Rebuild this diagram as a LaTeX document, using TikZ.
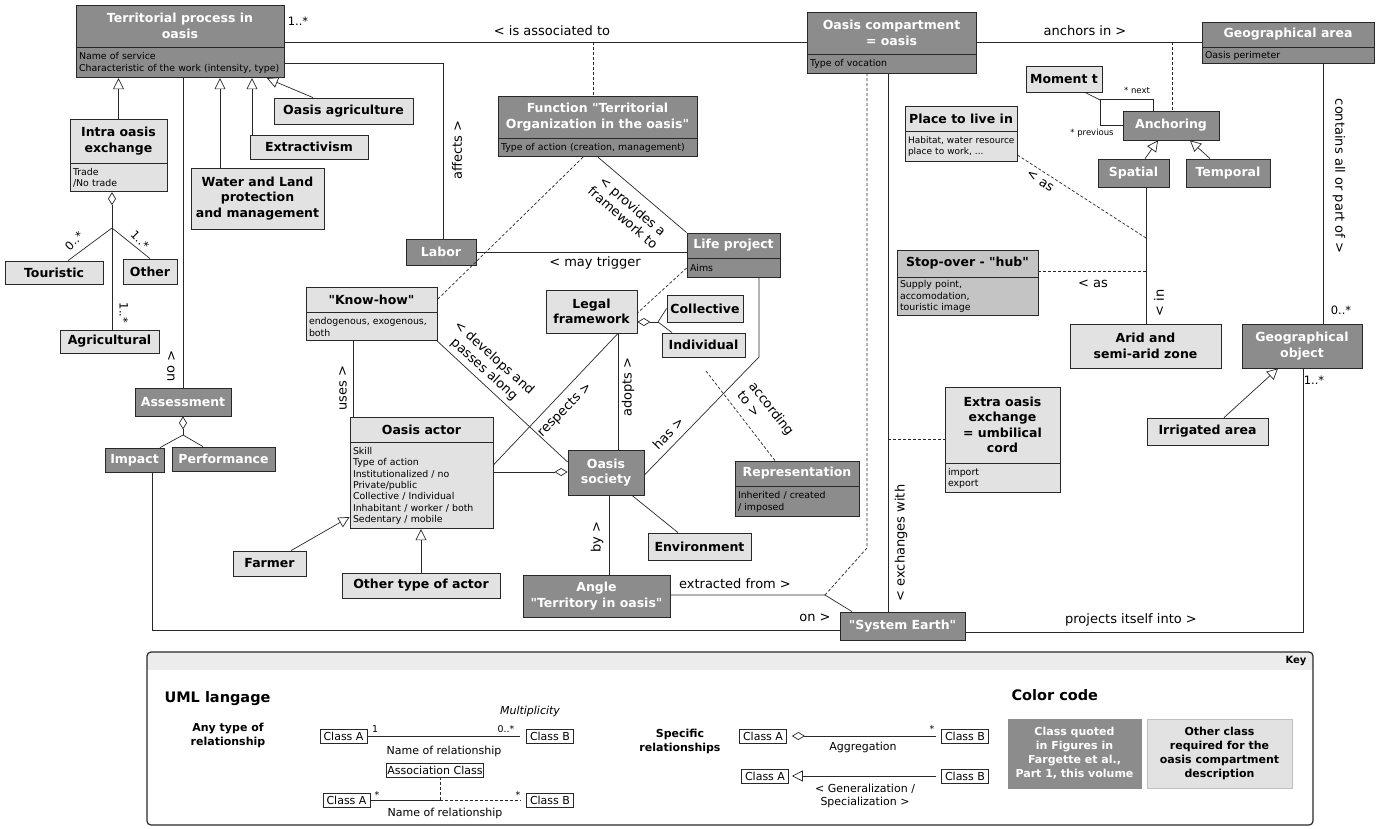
\documentclass[tikz,border=0pt]{standalone}
\usepackage{fontspec}
\setmainfont{DejaVu Sans}[Ligatures=TeXOff]
\usetikzlibrary{positioning}
\usetikzlibrary{arrows.meta}
\definecolor{linecol}{RGB}{40,40,40}
\definecolor{darkfill}{RGB}{140,140,140}
\definecolor{lightfill}{RGB}{226,226,226}
\definecolor{midfill}{RGB}{196,196,196}
\definecolor{keyband}{RGB}{236,236,236}
\newcommand{\titlefont}{\fontsize{12.5}{15.5}\selectfont\bfseries}
\newcommand{\attrfont}{\fontsize{9.4}{11.4}\selectfont}
\newcommand{\lblfont}{\fontsize{13}{15}\selectfont}
\newcommand{\multfont}{\fontsize{11.5}{13}\selectfont}
\newcommand{\keyfont}{\fontsize{11}{13}\selectfont}
\tikzset{dark node/.style={shape=rectangle, draw=linecol, line width=0.8pt,
    fill=darkfill, text=white, font=\titlefont, align=center, inner sep=1pt},
  light node/.style={dark node, fill=lightfill, text=black},
  mid node/.style={dark node, fill=midfill, text=black},
  attr node/.style={shape=rectangle, draw=linecol, line width=0.8pt,
    font=\attrfont, align=left, inner xsep=3pt, inner ysep=1pt, text=black},
  wh/.style 2 args={minimum width=#1pt, minimum height=#2pt},
  lbl/.style={font=\lblfont, inner sep=1pt, text=black},
  mult/.style={font=\multfont, inner sep=1pt, text=black},
  link/.style={draw=linecol, line width=0.7pt},
  dash link/.style={link, dash pattern=on 3pt off 2pt},
  gen/.style={arrows={-Triangle[open, length=11pt, width=11pt]}},
  agg/.style={arrows={Diamond[open, length=13pt, width=8pt]-}},
  agg end/.style={arrows={-Diamond[open, length=13pt, width=8pt]}},
  key class/.style={draw=linecol, line width=0.7pt, fill=white, font=\keyfont,
    inner sep=1pt, minimum width=47pt, minimum height=14pt}}

\begin{document}
\begin{tikzpicture}[x=1pt, y=-1pt]
    \fill[white] (0,0) rectangle (1382,828);
    \useasboundingbox (0,0) rectangle (1382,828);

    % territorial process and its kinds
    \node[dark node, wh={208}{42}] (1) at (180,26) {Territorial process in\\oasis};
    \node[attr node, fill=darkfill, text width=202pt, minimum height=30pt] (1a) [below=0pt of 1] {Name of service\\Characteristic of the work (intensity, type)};
    \node[light node, wh={97}{44}] (2) at (118.5,141) {Intra oasis\\exchange};
    \node[attr node, fill=lightfill, text width=91pt, minimum height=28pt] (2a) [below=0pt of 2] {Trade\\/No trade};
    \node[light node, wh={139}{26}] (3) at (343.5,111) {Oasis agriculture};
    \node[light node, wh={118}{24}] (4) at (309,147) {Extractivism};
    \node[light node, wh={133}{61}] (5) at (257.5,198.5) {Water and Land\\protection\\and management};
    \node[light node, wh={98}{23}] (6) at (54,272.5) {Touristic};
    \node[light node, wh={54}{25}] (7) at (150,271.5) {Other};
    \node[light node, wh={99}{23}] (8) at (109.5,341.5) {Agricultural};
    \node[dark node, wh={96}{28}] (9) at (183,402) {Assessment};
    \node[dark node, wh={59}{24}] (10) at (134.5,460) {Impact};
    \node[dark node, wh={103}{24}] (11) at (223.5,459) {Performance};
    \node[dark node, wh={70}{26}] (12) at (441,252) {Labor};

    % compartment, function, geography
    \node[dark node, wh={199}{42}] (13) at (597.5,117) {Function "Territorial\\Organization in the oasis"};
    \node[attr node, fill=darkfill, text width=193pt, minimum height=18pt] (13a) [below=0pt of 13] {Type of action (creation, management)};
    \node[dark node, wh={169}{42}] (14) at (891.5,33) {Oasis compartment\\= oasis};
    \node[attr node, fill=darkfill, text width=163pt, minimum height=19pt] (14a) [below=0pt of 14] {Type of vocation};
    \node[dark node, wh={172}{25}] (15) at (1288,34.5) {Geographical area};
    \node[attr node, fill=darkfill, text width=166pt, minimum height=16pt] (15a) [below=0pt of 15] {Oasis perimeter};
    \node[light node, wh={76}{26}] (16) at (1064,79) {Moment t};
    \node[dark node, wh={96}{29}] (17) at (1171,125.5) {Anchoring};
    \node[dark node, wh={71}{28}] (18) at (1133.5,173) {Spatial};
    \node[dark node, wh={84}{28}] (19) at (1228,173) {Temporal};
    \node[light node, wh={112}{25}] (20) at (961,118.5) {Place to live in};
    \node[attr node, fill=lightfill, text width=106pt, minimum height=30pt, font=\fontsize{9}{11}\selectfont] (20a) [below=0pt of 20] {\mbox{Habitat, water resource}\\place to work, ...};
    \node[mid node, wh={141}{27}] (21) at (967.5,263.5) {Stop-over - "hub"};
    \node[attr node, fill=midfill, text width=135pt, minimum height=38pt] (21a) [below=0pt of 21] {Supply point,\\accomodation,\\touristic image};
    \node[light node, wh={151}{44}] (22) at (1145.5,346) {Arid and\\semi-arid zone};
    \node[dark node, wh={120}{44}] (23) at (1302,346) {Geographical\\object};
    \node[light node, wh={121}{27}] (24) at (1207.5,431.5) {Irrigated area};

    % actors and society
    \node[dark node, wh={93}{25}] (25) at (733.5,245.5) {Life project};
    \node[attr node, fill=darkfill, text width=87pt, minimum height=19pt] (25a) [below=0pt of 25] {Aims};
    \node[light node, wh={131}{25}] (26) at (371.5,299.5) {"Know-how"};
    \node[attr node, fill=lightfill, text width=125pt, minimum height=28pt] (26a) [below=0pt of 26] {endogenous, exogenous,\\both};
    \node[light node, wh={91}{43}] (27) at (591.5,311.5) {Legal\\framework};
    \node[light node, wh={76}{27}] (28) at (705,308.5) {Collective};
    \node[light node, wh={83}{24}] (29) at (703.5,345) {Individual};
    \node[light node, wh={143}{25}] (30) at (421.5,429.5) {Oasis actor};
    \node[attr node, fill=lightfill, text width=137pt, minimum height=86pt] (30a) [below=0pt of 30] {Skill\\Type of action\\Institutionalized / no\\Private/public\\Collective / Individual\\Inhabitant / worker / both\\Sedentary / mobile};
    \node[dark node, wh={76}{45}] (31) at (606,472.5) {Oasis\\society};
    \node[light node, wh={103}{27}] (32) at (699.5,546.5) {Environment};
    \node[light node, wh={73}{25}] (33) at (269.5,563.5) {Farmer};
    \node[light node, wh={158}{25}] (34) at (421,585.5) {Other type of actor};
    \node[dark node, wh={147}{42}] (35) at (596.5,596) {Angle\\"Territory in oasis"};
    \node[dark node, wh={124}{25}] (36) at (797,473.5) {Representation};
    \node[attr node, fill=darkfill, text width=118pt, minimum height=30pt] (36a) [below=0pt of 36] {Inherited / created\\/ imposed};
    \node[light node, wh={115}{76}] (37) at (1002.5,425) {Extra oasis\\exchange\\= umbilical\\cord};
    \node[attr node, fill=lightfill, text width=109pt, minimum height=29pt] (37a) [below=0pt of 37] {import\\export};
    \node[dark node, wh={125}{28}] (38) at (902.5,626) {"System Earth"};

    % generalizations
    \draw[link, gen] (2.north) -- (2.north |- 1a.south);
    \draw[link, gen] (220,0 |- 5.north) -- (220,0 |- 1a.south);
    \draw[link, gen] (252,0 |- 4.north) -- (252,0 |- 1a.south);
    \draw[link, gen] (313,0 |- 3.north) -- (267,0 |- 1a.south);
    \draw[link, gen] (291,0 |- 33.north) -- (30a.west |- 0,517);
    \draw[link, gen] (34.north) -- (34.north |- 30a.south);
    \draw[link, gen] (1145,0 |- 18.north) -- (1158,0 |- 17.south);
    \draw[link, gen] (1210,0 |- 19.north) -- (1190,0 |- 17.south);
    \draw[link, gen] (1224,0 |- 24.north) -- (1278,0 |- 23.south);

    % aggregations
    \coordinate (j1) at (112,228);
    \draw[link, agg] (112,0 |- 2a.south) -- (j1);
    \draw[link] (j1) -- (68,0 |- 6.north);
    \draw[link] (j1) -- (150,0 |- 7.north);
    \draw[link] (j1) -- (112,0 |- 8.north);
    \node[mult, rotate=45] (m1) at (74,241) {0..*};
    \node[mult, rotate=-45] (m2) at (140,240) {1..*};
    \node[mult, rotate=-90] (m3) at (124,313) {1..*};

    \coordinate (j2) at (183,435);
    \draw[link, agg] (9.south) -- (j2);
    \draw[link] (j2) -- (160,0 |- 10.north);
    \draw[link] (j2) -- (203,0 |- 11.north);

    \coordinate (j3) at (658,322);
    \draw[link, agg] (27.east |- 0,322) -- (j3);
    \draw[link] (j3) -- (28.west);
    \draw[link] (j3) -- (672,0 |- 29.north);

    \draw[link, agg end] (30a.east |- 0,472) -- (31.west |- 0,472);

    % associations
    \draw[link] (1.east |- 0,42) -- (14.west |- 0,42);
    \node[lbl] (l1) at (552,31) {< is associated to};
    \node[mult] (m4) at (298,21) {1..*};
    \draw[dash link] (593,42) -- (593,0 |- 13.north);

    \draw[link] (1a.east |- 0,63) -- (443,63) -- (443,0 |- 12.north);
    \node[lbl, rotate=90] (l2) at (457,150) {affects >};

    \draw[link] (183,0 |- 1a.south) -- (9.north);
    \node[lbl, rotate=-90] (l3) at (171,366) {< on};

    \draw[link] (152,0 |- 10.south) -- (152,630) -- (38.west |- 0,630);
    \node[lbl] (l4) at (815,618) {on >};

    \draw[link] (353,0 |- 26a.south) -- (353,0 |- 30.north);
    \node[lbl, rotate=90] (l5) at (343,388) {uses >};

    \draw[link] (26a.south east) -- (31.west |- 0,462);
    \node[lbl, rotate=-42, align=center] (l6) at (489,364) {< develops and\\passes along};

    \draw[link] (30a.east |- 0,465) -- (618,0 |- 27.south);
    \node[lbl, rotate=45] (l7) at (565,410) {respects >};

    \draw[link] (618,0 |- 27.south) -- (618,0 |- 31.north);
    \node[lbl, rotate=90] (l8) at (628,387) {adopts >};

    \draw[link] (31.east |- 0,475) -- (759,357) -- (759,0 |- 25a.south);
    \node[lbl, rotate=46] (l9) at (668,433) {has >};

    \draw[link] (632,0 |- 31.south) -- (678,0 |- 32.north);

    \draw[link] (609,0 |- 31.south) -- (609,0 |- 35.north);
    \node[lbl, rotate=90] (l10) at (597,537) {by >};

    \coordinate (c1) at (825,595);
    \draw[link] (35.east |- c1) -- (c1) -- (852,0 |- 38.north);
    \node[lbl] (l11) at (735,584) {extracted from >};
    \draw[dash link] (c1) -- (867,548) -- (867,0 |- 14a.south);

    \draw[link] (888,0 |- 14a.south) -- (888,0 |- 38.north);
    \node[lbl, rotate=90] (l12) at (901,543) {< exchanges with};
    \draw[dash link] (888,439) -- (37.west |- 0,439);

    \draw[link] (598,0 |- 13a.south) -- (25.north west);
    \node[lbl, rotate=-41, align=center] (l13) at (628,212) {< provides a\\framework to};
    \draw[dash link] (583,0 |- 13a.south) -- (26.east);
    \draw[dash link] (25a.west |- 0,268) -- (27.east |- 0,313);

    \draw[link] (12.east) -- (12.east -| 25.west);
    \node[lbl] (l14) at (595,263) {< may trigger};

    \coordinate (c2) at (706,371);
    \draw[dash link] (c2) -- (775,0 |- 36.north);
    \node[lbl, rotate=-52, align=left] (l15) at (766,413) {according\\to >};

    \draw[link] (14.east |- 0,42) -- (15.west |- 0,42);
    \node[lbl] (l16) at (1085,31) {anchors in >};
    \draw[dash link] (1172,42) -- (1172,0 |- 17.north);

    \draw[link] (1323,0 |- 15a.south) -- (1323,0 |- 23.north);
    \node[lbl, rotate=-90] (l17) at (1339,176) {contains all or part of >};
    \node[mult] (m5) at (1341,310) {0..*};

    % anchoring in time
    \draw[link] (1153,0 |- 17.north) -- (1153,99) -- (1100,99) -- (1100,125) -- (17.west |- 0,125);
    \draw[link] (1085,0 |- 16.south) -- (1100,100);
    \node[font=\fontsize{8.5}{10}\selectfont, inner sep=1pt] (m6) at (1137,90) {* next};
    \node[font=\fontsize{8.5}{10}\selectfont, inner sep=1pt] (m7) at (1092,133) {* previous};

    \draw[link] (1146,0 |- 18.south) -- (1146,0 |- 22.north);
    \node[lbl, rotate=90] (l18) at (1159,303) {< in};

    \draw[dash link] (20a.east |- 0,155) -- (1146,238);
    \node[lbl, rotate=-33] (l19) at (1040,181) {< as};
    \draw[dash link] (21.east |- 0,271) -- (1146,271);
    \node[lbl] (l20) at (1093,284) {< as};

    \draw[link] (38.east |- 0,632) -- (1303,632) -- (1303,0 |- 23.south);
    \node[lbl] (l21) at (1131,620) {projects itself into >};
    \node[mult] (m8) at (1314,380) {1..*};

    % key
    \begin{scope}
      \clip[rounded corners=4pt] (147,652) rectangle (1313,825);
      \fill[keyband] (147,652) rectangle (1313,670);
    \end{scope}
    \draw[linecol, line width=1.2pt, rounded corners=4pt] (147,652) rectangle (1313,825);
    \node[font=\fontsize{10}{12}\selectfont\bfseries, anchor=east] (k0) at (1310,661) {Key};

    \node[font=\fontsize{14.5}{17}\selectfont\bfseries, anchor=west] (k1) at (161,699) {UML langage};
    \node[font=\fontsize{11}{14}\selectfont\bfseries, align=center] (k2) at (228,735) {Any type of\\relationship};
    \node[font=\fontsize{11}{13}\selectfont\itshape] (k3) at (530,711) {Multiplicity};

    \node[key class] (k4) at (343.5,736) {Class A};
    \node[key class] (k5) at (550,736) {Class B};
    \draw[link, shorten >=6pt] (k4) -- (k5);
    \node[font=\attrfont] (k6) at (375,729) {1};
    \node[font=\attrfont] (k7) at (506,729) {0..*};
    \node[font=\keyfont] (k8) at (444,751) {Name of relationship};

    \node[key class, minimum width=96pt] (k9) at (435,770) {Association Class};
    \node[key class] (k10) at (346.5,800) {Class A};
    \node[key class] (k11) at (550,800) {Class B};
    \coordinate (k12) at (440,800);
    \draw[link] (k10) -- (k12);
    \draw[dash link, shorten >=6pt] (k12) -- (k11);
    \draw[dash link] (k9.south -| k12) -- (k12);
    \node[font=\attrfont] (k13) at (377,795) {*};
    \node[font=\attrfont] (k14) at (518,795) {*};
    \node[font=\keyfont] (k15) at (445,813) {Name of relationship};

    \node[font=\fontsize{11}{14}\selectfont\bfseries, align=center] (k16) at (680,741) {Specific\\relationships};
    \node[key class] (k17) at (763,736) {Class A};
    \node[key class] (k18) at (965,736) {Class B};
    \draw[link, agg, shorten <=5pt, shorten >=5pt] (k17) -- (k18);
    \node[font=\attrfont] (k19) at (932,729) {*};
    \node[font=\keyfont] (k20) at (863,747) {Aggregation};
    \node[key class] (k21) at (765,776) {Class A};
    \node[key class] (k22) at (965,776) {Class B};
    \draw[link, gen, shorten <=5pt, shorten >=3pt] (k22) -- (k21);
    \node[font=\keyfont, align=center] (k23) at (865,796) {< Generalization /\\Specialization >};

    \node[font=\fontsize{14.5}{17}\selectfont\bfseries, anchor=west] (k24) at (1008,695) {Color code};
    \node[dark node, draw=darkfill, wh={133}{69}, font=\fontsize{11}{14}\selectfont\bfseries] (k25) at (1074.5,753.5) {Class quoted\\in Figures in\\Fargette et al.,\\Part 1, this volume};
    \node[light node, draw=black!25, wh={145}{69}, font=\fontsize{11}{14}\selectfont\bfseries] (k26) at (1219.5,753.5) {Other class\\required for the\\oasis compartment\\description};
\end{tikzpicture}
\end{document}
